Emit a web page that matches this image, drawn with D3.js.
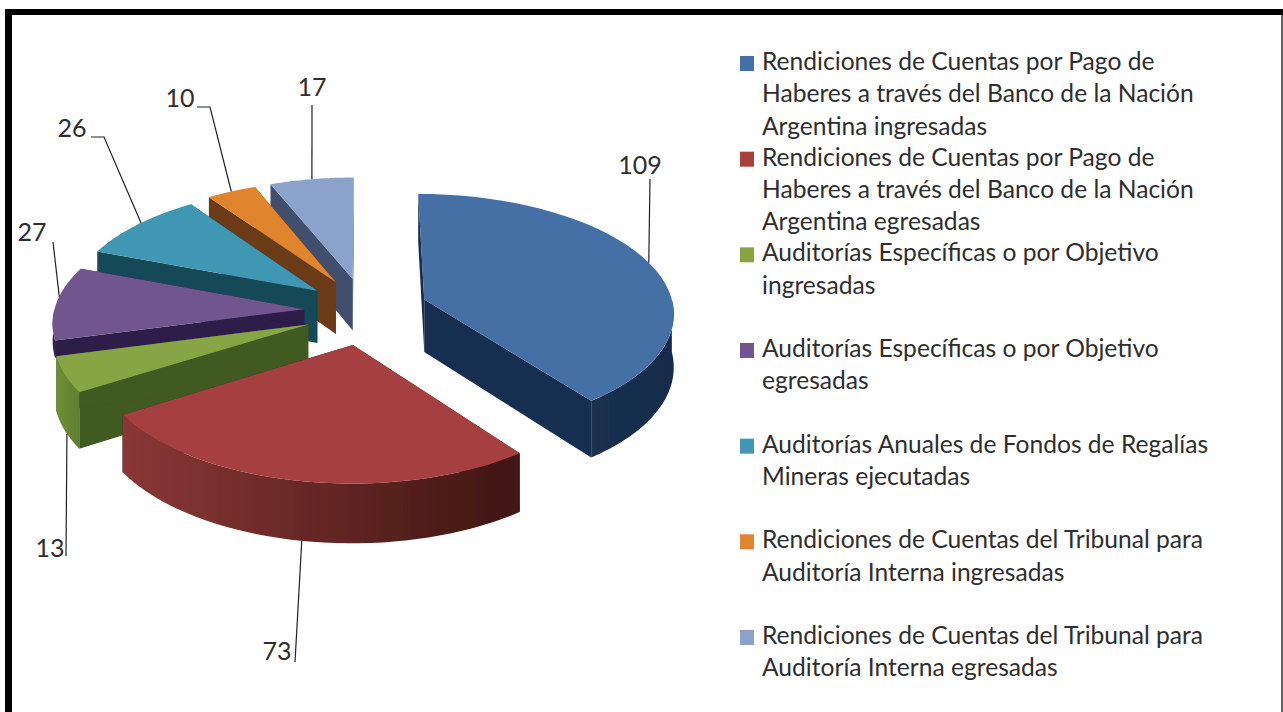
<!DOCTYPE html>
<html>
<head>
<meta charset="utf-8">
<script src="https://cdn.jsdelivr.net/npm/d3@7"></script>
<style>
html, body { margin: 0; padding: 0; background: #fff; overflow: hidden; }
text { font-family: Lato, "Open Sans", sans-serif; fill: #2e2e2e; }
</style>
</head>
<body>
<div id="chart"></div>
<script>
// Step 1: data
var categories = [
  ["Rendiciones de Cuentas por Pago de", "Haberes a través del Banco de la Nación", "Argentina ingresadas"],
  ["Rendiciones de Cuentas por Pago de", "Haberes a través del Banco de la Nación", "Argentina egresadas"],
  ["Auditorías Específicas o por Objetivo", "ingresadas"],
  ["Auditorías Específicas o por Objetivo", "egresadas"],
  ["Auditorías Anuales de Fondos de Regalías", "Mineras ejecutadas"],
  ["Rendiciones de Cuentas del Tribunal para", "Auditoría Interna ingresadas"],
  ["Rendiciones de Cuentas del Tribunal para", "Auditoría Interna egresadas"]
];
var values = [109, 73, 13, 27, 26, 10, 17];

// colours: top face, radial side, outer wall left/right
var topColors = ["#4470a6", "#a6403f", "#87a545", "#71558f", "#3f97b3", "#e0842f", "#8ba2cb"];
var sideColors = ["#182f4f", "#451a16", "#3f5a22", "#2f1a4a", "#174a58", "#6a3a14", "#414f6e"];
var wallLeft = ["#1a3050", "#8a3736", "#6f9035", "#3a2458", "#1c5a6a", "#7a4216", "#4a5878"];
var wallRight = ["#172c4a", "#3f1612", "#5f7f30", "#2f1a4a", "#174a58", "#6a3a14", "#414f6e"];

// Step 2: layout
var width = 1283, height = 712;
var cx = 364, cy = 311;      // pie centre on screen
var rx = 250, ry = 120;      // ellipse radii at depth 0
var perspX = 0.1, perspY = 0.1;  // how much bigger things get toward the viewer
var thick = 53;              // side height at depth 0
var explodeX = 0.24, explodeY = 0.28;
// per slice tweaks: how far it is pulled out, how much of its side shows
var explodeBy = [1.07, 1, 1, 1, 1, 1, 1];
var sideBy = [1, 1, 1, 0.32, 1, 1, 1];

// label text anchor and the outer end of the leader, same order as values
var labelPos = [[640, 174], [277, 660], [50, 557], [32, 241], [72, 137], [180, 107], [312, 96]];
var leaderEnd = [
  [[650, 179]],
  [[295, 662]],
  [[66, 556]],
  [[53, 242]],
  [[91, 137], [104, 137]],
  [[197, 107], [210, 107]],
  [[312, 105]]
];

var svg = d3.select("#chart").append("svg")
  .attr("width", width)
  .attr("height", height)
  .style("display", "block");

// frame: thick left and top, hairline right, nothing at the bottom
svg.append("rect").attr("x", 5).attr("y", 9).attr("width", 7).attr("height", 703).attr("fill", "#000");
svg.append("rect").attr("x", 5).attr("y", 9).attr("width", 1278).attr("height", 6).attr("fill", "#000");
svg.append("rect").attr("x", 1281).attr("y", 15).attr("width", 2).attr("height", 697).attr("fill", "#666");

var pie = d3.pie().sort(null).startAngle(0).endAngle(2 * Math.PI);
var arcs = pie(values);

// world coords: X to the right, Y toward the viewer, radius 1, z is the drop below the top face
function project(X, Y, z) {
  var sx = 1 + perspX * Y, sy = 1 + perspY * Y;
  return [cx + rx * sx * X, cy + ry * sy * Y + z * thick * sy];
}

function slicePoint(d, a, r, z) {
  var mid = (d.startAngle + d.endAngle) / 2;
  var e = explodeBy[d.index];
  var X = e * explodeX * Math.sin(mid) + r * Math.sin(a);
  var Y = -e * explodeY * Math.cos(mid) - r * Math.cos(a);
  return project(X, Y, z);
}

var line = d3.line();

function rim(d, a0, a1, z) {
  return d3.range(0, 41).map(function(i) {
    return slicePoint(d, a0 + (a1 - a0) * i / 40, 1, z);
  });
}

var defs = svg.append("defs");
arcs.forEach(function(d, i) {
  var g = defs.append("linearGradient").attr("id", "wall" + i);
  g.append("stop").attr("offset", "0%").attr("stop-color", wallLeft[i]);
  g.append("stop").attr("offset", "100%").attr("stop-color", wallRight[i]);
});
defs.append("filter").attr("id", "soft")
  .append("feGaussianBlur").attr("stdDeviation", 0.5);

// Step 3: paint from the back to the front
var drawOrder = [6, 5, 4, 3, 2, 0, 1];
var pieGroup = svg.append("g").attr("filter", "url(#soft)");

drawOrder.forEach(function(i) {
  var d = arcs[i];
  var g = pieGroup.append("g");
  var z = sideBy[i];

  // the two flat cut faces
  [d.startAngle, d.endAngle].forEach(function(a) {
    var pts = [
      slicePoint(d, a, 0, 0), slicePoint(d, a, 1, 0),
      slicePoint(d, a, 1, z), slicePoint(d, a, 0, z)
    ];
    g.append("path")
      .attr("d", line(pts) + "Z")
      .attr("fill", sideColors[i]);
  });

  // outer wall, only the part that faces the viewer
  var a0 = Math.max(d.startAngle, Math.PI / 2);
  var a1 = Math.min(d.endAngle, 3 * Math.PI / 2);
  if (a1 > a0) {
    var pts = rim(d, a0, a1, 0).concat(rim(d, a1, a0, z));
    g.append("path")
      .attr("d", line(pts) + "Z")
      .attr("fill", "url(#wall" + i + ")");
  }

  // top face
  var top = [slicePoint(d, 0, 0, 0)].concat(rim(d, d.startAngle, d.endAngle, 0));
  g.append("path")
    .attr("d", line(top) + "Z")
    .attr("fill", topColors[i]);
});

// Step 4: data labels with leaders
var leaderAngle = [1.24, 3.32, 4.28, 4.82, 5.39, 5.78, 6.09];
var leaderZ = [0, 1, 1, 0, 0, 0, 0];
arcs.forEach(function(d, i) {
  var pts = leaderEnd[i].concat([slicePoint(d, leaderAngle[i], 1, leaderZ[i])]);
  svg.append("path")
    .attr("d", line(pts))
    .attr("fill", "none")
    .attr("stroke", "#222")
    .attr("stroke-width", 1.2);
  svg.append("text")
    .attr("x", labelPos[i][0])
    .attr("y", labelPos[i][1])
    .attr("text-anchor", "middle")
    .attr("font-size", "25px")
    .text(values[i]);
});

// Step 5: legend
var legendY = d3.scaleLinear().domain([0, categories.length - 1]).range([70, 644]);
var legend = svg.selectAll("g.legend")
  .data(categories)
  .enter()
  .append("g")
  .attr("class", "legend")
  .attr("transform", function(d, i) { return "translate(740," + legendY(i) + ")"; });

legend.append("rect")
  .attr("x", 0).attr("y", -14)
  .attr("width", 14).attr("height", 15)
  .attr("fill", function(d, i) { return topColors[i]; });

legend.each(function(lines) {
  var el = d3.select(this);
  lines.forEach(function(t, j) {
    el.append("text")
      .attr("x", 22)
      .attr("y", j * 32.3)
      .attr("font-size", "24.6px")
      .text(t);
  });
});
</script>
</body>
</html>
